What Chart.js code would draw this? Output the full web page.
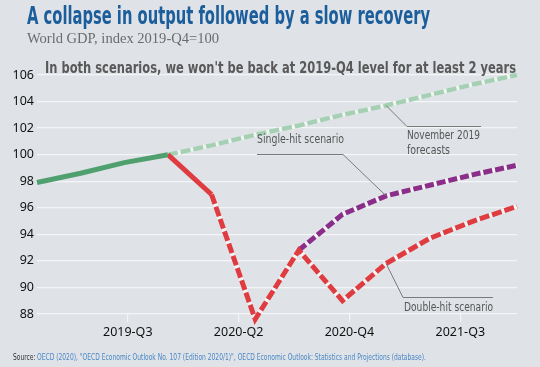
<!DOCTYPE html>
<html>
<head>
<meta charset="utf-8">
<script src="https://cdn.jsdelivr.net/npm/chart.js@4.4.0/dist/chart.umd.min.js"></script>
<style>
  html, body { margin: 0; padding: 0; background: #dfe3e7; }
  #wrap { width: 540px; height: 367px; position: relative; }
</style>
</head>
<body>
<div id="wrap"><canvas id="myChart"></canvas></div>
<script>
// quarters 2019-Q1 .. 2021-Q4
const quarters = ['2019-Q1', '2019-Q2', '2019-Q3', '2019-Q4', '2020-Q1', '2020-Q2',
  '2020-Q3', '2020-Q4', '2021-Q1', '2021-Q2', '2021-Q3', '2021-Q4'];

// World GDP, index 2019-Q4 = 100
const history     = [97.9, 98.6, 99.4, 100, null, null, null, null, null, null, null, null];
const novForecast = [null, null, null, 100, 100.7, 101.5, 102.2, 103.0, 103.7, 104.5, 105.3, 106.0];
const doubleHit   = [null, null, null, 100, 97.0, 87.6, 92.8, 89.0, 91.8, 93.7, 95.0, 96.1];
const singleHit   = [null, null, null, null, null, null, 92.8, 95.5, 96.9, 97.7, 98.5, 99.2];

const xTickLabels = ['2019-Q3', '2020-Q2', '2020-Q4', '2021-Q3'];

const GREEN = '#4fa06e';
const LIGHT_GREEN = '#a6d0b4';
const RED = '#de3c40';
const PURPLE = '#8a2e89';
const GAP = 'rgba(255,255,255,0.55)';

function pts(arr) {
  return arr.map(function (v, i) { return { x: i, y: v }; });
}

// draws text squeezed/stretched to a given width
function fitText(ctx, text, x, y, width, font, color) {
  ctx.save();
  ctx.font = font;
  ctx.fillStyle = color;
  ctx.textAlign = 'left';
  ctx.textBaseline = 'alphabetic';
  const w = ctx.measureText(text).width;
  ctx.translate(x, y);
  ctx.scale(width / w, 1);
  ctx.fillText(text, 0, 0);
  ctx.restore();
}

const NARROW = '"Liberation Sans Narrow", "DejaVu Sans Condensed", "Roboto", sans-serif';

const textPlugin = {
  id: 'texts',
  beforeDraw(chart) {
    const ctx = chart.ctx;
    ctx.save();
    ctx.fillStyle = '#dfe3e7';
    ctx.fillRect(0, 0, chart.width, chart.height);
    ctx.restore();
  },
  afterDatasetsDraw(chart) {
    const ctx = chart.ctx;
    const xs = chart.scales.x, ys = chart.scales.y;
    const at = function (arr, i) { return [xs.getPixelForValue(i), ys.getPixelForValue(arr[i])]; };

    ctx.save();
    ctx.strokeStyle = '#7b7b7b';
    ctx.lineWidth = 1;

    // leader lines
    let p = at(singleHit, 8);
    ctx.beginPath(); ctx.moveTo(p[0], p[1]); ctx.lineTo(343, 154.5); ctx.lineTo(257, 154.5); ctx.stroke();
    p = at(novForecast, 8);
    ctx.beginPath(); ctx.moveTo(p[0], p[1]); ctx.lineTo(407, 126.5); ctx.lineTo(481, 126.5); ctx.stroke();
    p = at(doubleHit, 8);
    ctx.beginPath(); ctx.moveTo(p[0], p[1]); ctx.lineTo(403, 297.5); ctx.lineTo(493, 297.5); ctx.stroke();
    ctx.restore();

    fitText(ctx, 'Single-hit scenario', 257, 142.5, 87, '13px ' + NARROW, '#555');
    fitText(ctx, 'November 2019', 407, 139, 73, '13px ' + NARROW, '#555');
    fitText(ctx, 'forecasts', 407, 154, 43, '13px ' + NARROW, '#555');
    fitText(ctx, 'Double-hit scenario', 404, 310.5, 89, '13px ' + NARROW, '#555');
  },
  afterDraw(chart) {
    const ctx = chart.ctx;
    fitText(ctx, 'A collapse in output followed by a slow recovery', 27, 24, 403,
      'bold 24px ' + NARROW, '#1c5d9b');
    fitText(ctx, 'World GDP, index 2019-Q4=100', 27, 42.5, 192,
      '14.5px "Liberation Serif", "DejaVu Serif", serif', '#6b6b6b');
    fitText(ctx, "In both scenarios, we won't be back at 2019-Q4 level for at least 2 years", 45, 73, 471,
      'bold 16.5px ' + NARROW, '#595959');
    fitText(ctx, 'Source:', 13, 360, 22.5, '9.5px ' + NARROW, '#333');
    fitText(ctx, 'OECD (2020), "OECD Economic Outlook No. 107 (Edition 2020/1)", OECD Economic Outlook: Statistics and Projections (database).',
      37, 360, 389, '9.5px ' + NARROW, '#4a86c5');
  }
};

const dashFrom4 = function (c) { return c.p0DataIndex >= 4 ? [10, 3] : []; };
const gapFrom4 = function (c) { return c.p0DataIndex >= 4 ? GAP : 'rgba(0,0,0,0)'; };

const ctx = document.getElementById('myChart').getContext('2d');
new Chart(ctx, {
  type: 'line',
  data: {
    datasets: [
      { label: 'History', data: pts(history), borderColor: GREEN, borderWidth: 5, order: 1 },
      { label: 'Single-hit gaps', data: pts(singleHit), borderColor: GAP, borderWidth: 5, order: 6 },
      { label: 'Single-hit scenario', data: pts(singleHit), borderColor: PURPLE, borderWidth: 5,
        borderDash: [9, 3], order: 4 },
      { label: 'Double-hit gaps', data: pts(doubleHit), borderWidth: 5, order: 7,
        borderColor: GAP, segment: { borderColor: gapFrom4 } },
      { label: 'Double-hit scenario', data: pts(doubleHit), borderColor: RED, borderWidth: 5, order: 3,
        segment: { borderDash: dashFrom4 } },
      { label: 'Nov 2019 gaps', data: pts(novForecast), borderColor: GAP, borderWidth: 4.5, order: 8 },
      { label: 'November 2019 forecasts', data: pts(novForecast), borderColor: LIGHT_GREEN, borderWidth: 4.5,
        borderDash: [10, 3], order: 5 }
    ]
  },
  options: {
    responsive: true,
    maintainAspectRatio: false,
    animation: false,
    layout: { padding: { top: 75, right: 23, left: 0, bottom: 0 } },
    elements: {
      point: { radius: 0 },
      line: { tension: 0, borderCapStyle: 'butt', borderJoinStyle: 'miter', fill: false }
    },
    datasets: { line: { clip: false, spanGaps: false } },
    plugins: { legend: { display: false }, tooltip: { enabled: false } },
    scales: {
      x: {
        type: 'linear',
        min: 0,
        max: quarters.length - 1,
        afterFit: function (s) { s.height = 53; },
        afterBuildTicks: function (s) {
          // labels sit evenly along the axis, not on the quarter points
          s.ticks = [2.08, 4.62, 7.16, 9.70].map(function (v) { return { value: v }; });
        },
        ticks: {
          autoSkip: false,
          maxRotation: 0,
          padding: 3,
          color: '#111',
          font: { family: '"Noto Sans", sans-serif', size: 12.5 },
          callback: function (v, i) { return xTickLabels[i]; }
        },
        grid: { drawOnChartArea: false, drawTicks: true, tickLength: 8, color: '#f2f4f6', lineWidth: 1.2 },
        border: { display: false }
      },
      y: {
        min: 88,
        max: 106,
        afterFit: function (s) { s.width = 37; },
        ticks: {
          stepSize: 2,
          padding: 3,
          color: '#111',
          font: { family: '"Noto Sans", sans-serif', size: 12.5 }
        },
        grid: { drawTicks: false, color: '#f3f5f7', lineWidth: 1.3 },
        border: { display: false }
      }
    }
  },
  plugins: [textPlugin]
});
</script>
</body>
</html>
